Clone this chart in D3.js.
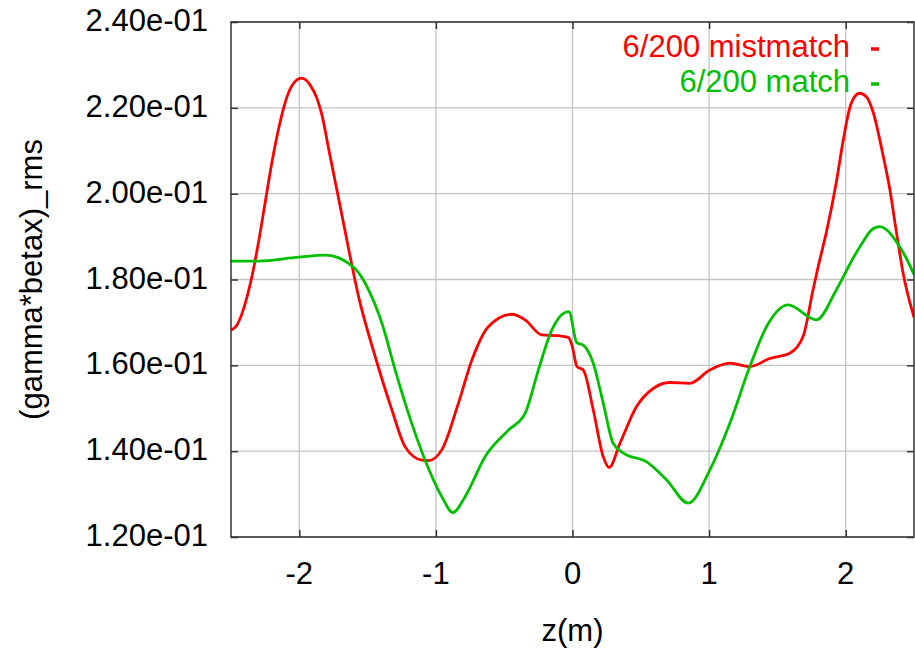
<!DOCTYPE html>
<html>
<head>
<meta charset="utf-8">
<script src="https://cdn.jsdelivr.net/npm/d3@7"></script>
<style>
  html, body { margin: 0; padding: 0; background: #fff; }
  svg { display: block; font-family: "Liberation Sans", Arial, Helvetica, sans-serif; }
</style>
</head>
<body>
<svg id="chart" width="915" height="648"></svg>
<script>
// z positions (m) and rms values for the two runs
const mismatchZ = [-2.5, -2.456, -2.419, -2.382, -2.346, -2.298, -2.249, -2.200, -2.151, -2.102, -2.053, -1.985, -1.920, -1.871, -1.834, -1.786, -1.737, -1.688, -1.640, -1.566, -1.444, -1.322, -1.225, -1.103, -1.054, -0.957, -0.835, -0.737, -0.616, -0.445, -0.347, -0.225, -0.104, -0.031, -0.004, 0.033, 0.079, 0.152, 0.225, 0.269, 0.347, 0.469, 0.591, 0.713, 0.859, 1.005, 1.152, 1.298, 1.444, 1.590, 1.688, 1.761, 1.800, 1.859, 1.932, 1.980, 2.029, 2.066, 2.102, 2.151, 2.200, 2.273, 2.322, 2.371, 2.419, 2.5];
const mismatchRms = [0.1682, 0.1694, 0.1721, 0.1760, 0.1808, 0.1888, 0.1981, 0.2074, 0.2152, 0.2214, 0.2252, 0.2269, 0.2253, 0.2222, 0.2183, 0.2106, 0.2028, 0.1950, 0.1873, 0.1760, 0.1620, 0.1496, 0.1410, 0.1379, 0.1378, 0.1403, 0.1512, 0.1612, 0.1690, 0.1719, 0.1706, 0.1671, 0.1669, 0.1665, 0.1647, 0.1597, 0.1589, 0.1496, 0.1387, 0.1362, 0.1418, 0.1504, 0.1546, 0.1560, 0.1558, 0.1589, 0.1605, 0.1597, 0.1616, 0.1628, 0.1667, 0.1776, 0.1832, 0.1911, 0.2028, 0.2121, 0.2199, 0.2226, 0.2234, 0.2226, 0.2191, 0.2090, 0.2012, 0.1911, 0.1817, 0.1712];

const matchZ = [-2.5, -2.3, -2.007, -1.810, -1.715, -1.642, -1.569, -1.493, -1.395, -1.298, -1.201, -1.079, -0.957, -0.876, -0.786, -0.640, -0.469, -0.347, -0.250, -0.152, -0.055, -0.026, 0.031, 0.079, 0.152, 0.225, 0.298, 0.371, 0.543, 0.689, 0.847, 1.005, 1.152, 1.298, 1.420, 1.578, 1.786, 1.932, 2.053, 2.127, 2.188, 2.249, 2.309, 2.371, 2.431, 2.5];
const matchRms = [0.1843, 0.1843, 0.1852, 0.1857, 0.1851, 0.1838, 0.1817, 0.1776, 0.1698, 0.1589, 0.1488, 0.1379, 0.1294, 0.1257, 0.1294, 0.1387, 0.1449, 0.1488, 0.1589, 0.1682, 0.1723, 0.1725, 0.1653, 0.1647, 0.1605, 0.1512, 0.1418, 0.1396, 0.1375, 0.1333, 0.1279, 0.1356, 0.1465, 0.1597, 0.1690, 0.1741, 0.1706, 0.1776, 0.1849, 0.1888, 0.1915, 0.1923, 0.1913, 0.1888, 0.1857, 0.1812];

const seriesNames = ["6/200 mistmatch", "6/200 match"];
const seriesColors = ["#ff0000", "#00c000"];

const xTicks = [-2, -1, 0, 1, 2];
const yTicks = [0.12, 0.14, 0.16, 0.18, 0.20, 0.22, 0.24];
const yTickLabels = ["1.20e-01", "1.40e-01", "1.60e-01", "1.80e-01", "2.00e-01", "2.20e-01", "2.40e-01"];

const xTitle = "z(m)";
const yTitle = "(gamma*betax)_rms";

// plot frame
const plotLeft = 231, plotRight = 914, plotTop = 22, plotBottom = 537;
const fontSize = 31;

const svg = d3.select("#chart");
const x = d3.scaleLinear().domain([-2.5, 2.5]).range([plotLeft, plotRight]);
const y = d3.scaleLinear().domain([0.12, 0.24]).range([plotBottom, plotTop]);

// grid
const grid = svg.append("g").attr("stroke", "#c4c4c4").attr("stroke-width", 1.3);
grid.selectAll("line.vx").data(xTicks).join("line")
  .attr("x1", d => x(d)).attr("x2", d => x(d)).attr("y1", plotTop).attr("y2", plotBottom);
grid.selectAll("line.hy").data(yTicks).join("line")
  .attr("x1", plotLeft).attr("x2", plotRight).attr("y1", d => y(d)).attr("y2", d => y(d));

// axes: ticks point inward on all four sides
const tickLen = 7;
const axisColor = "#333";
const fmtY = d => yTickLabels[yTicks.indexOf(d)];

const gLeft = svg.append("g").attr("transform", `translate(${plotLeft},0)`)
  .call(d3.axisRight(y).tickValues(yTicks).tickSize(tickLen).tickFormat(""));
const gRight = svg.append("g").attr("transform", `translate(${plotRight},0)`)
  .call(d3.axisLeft(y).tickValues(yTicks).tickSize(tickLen).tickFormat(""));
const gBottom = svg.append("g").attr("transform", `translate(0,${plotBottom})`)
  .call(d3.axisTop(x).tickValues(xTicks).tickSize(tickLen).tickFormat(""));
const gTop = svg.append("g").attr("transform", `translate(0,${plotTop})`)
  .call(d3.axisBottom(x).tickValues(xTicks).tickSize(tickLen).tickFormat(""));
[gLeft, gRight, gBottom, gTop].forEach(g => {
  g.select(".domain").remove();
  g.selectAll(".tick line").attr("stroke", axisColor).attr("stroke-width", 1.5);
});

// tick labels
svg.append("g").selectAll("text").data(yTicks).join("text")
  .attr("x", 208).attr("y", d => y(d) + 9)
  .attr("text-anchor", "end").attr("font-size", fontSize).attr("fill", "#000")
  .text(fmtY);
svg.append("g").selectAll("text").data(xTicks).join("text")
  .attr("x", d => x(d)).attr("y", 584)
  .attr("text-anchor", "middle").attr("font-size", fontSize).attr("fill", "#000")
  .text(d => d3.format("d")(d).replace("−", "-"));

// titles
svg.append("text").attr("x", x(0)).attr("y", 641)
  .attr("text-anchor", "middle").attr("font-size", fontSize).text(xTitle);
svg.append("text")
  .attr("transform", `translate(42,${(plotTop + plotBottom) / 2}) rotate(-90)`)
  .attr("text-anchor", "middle").attr("font-size", fontSize).text(yTitle);

// curves
svg.append("clipPath").attr("id", "plotClip").append("rect")
  .attr("x", plotLeft).attr("y", plotTop).attr("width", plotRight - plotLeft).attr("height", plotBottom - plotTop);

const line = d3.line().x(d => x(d[0])).y(d => y(d[1])).curve(d3.curveMonotoneX);
const series = [
  d3.zip(mismatchZ, mismatchRms),
  d3.zip(matchZ, matchRms)
];
const curves = svg.append("g").attr("clip-path", "url(#plotClip)");
curves.selectAll("path").data(series).join("path")
  .attr("d", line)
  .attr("fill", "none")
  .attr("stroke", (d, i) => seriesColors[i])
  .attr("stroke-width", 2.8)
  .attr("stroke-linejoin", "round");

// border
svg.append("rect").attr("x", plotLeft).attr("y", plotTop)
  .attr("width", plotRight - plotLeft).attr("height", plotBottom - plotTop)
  .attr("fill", "none").attr("stroke", axisColor).attr("stroke-width", 1.5);

// legend
const legend = svg.append("g");
seriesNames.forEach((name, i) => {
  const by = 57 + i * 35;
  legend.append("text").attr("x", 850).attr("y", by)
    .attr("text-anchor", "end").attr("font-size", fontSize)
    .attr("fill", seriesColors[i]).text(name);
  legend.append("line")
    .attr("x1", 871).attr("x2", 879).attr("y1", by - 8).attr("y2", by - 8)
    .attr("stroke", seriesColors[i]).attr("stroke-width", 3.5);
});
</script>
</body>
</html>
